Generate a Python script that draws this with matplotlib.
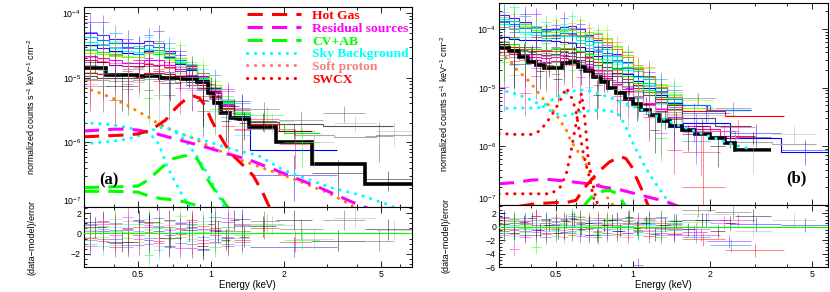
import numpy as np
import matplotlib
matplotlib.use('Agg')
from matplotlib import pyplot as plt
from matplotlib.lines import Line2D
from matplotlib.ticker import FixedLocator, FixedFormatter, MultipleLocator, LogLocator, NullFormatter

plt.rcParams['font.family'] = ['Liberation Sans', 'DejaVu Sans']
plt.rcParams['mathtext.default'] = 'regular'

# ---------------- panel (a) : spectra ----------------
A_EDGES = [0.30, 0.34, 0.38, 0.43, 0.48, 0.53, 0.58, 0.64, 0.71, 0.79, 0.88, 0.98, 1.10, 1.25, 1.45]
A_FRAC = [0.55, 0.5, 0.45, 0.42, 0.4, 0.38, 0.36, 0.35, 0.35, 0.35, 0.35, 0.38, 0.42, 0.48]
A_TAIL_FRAC = 0.45
A_COLORS = ['#7f00ff', '#0080ff', '#00ffff', '#0000ff', '#00ff00', '#80ff00',
            '#ff00ff', '#ff0080', '#ff0000', '#555555', '#aaaaaa']
A_MODELS = [
    [5.0e-5, 4.5e-5, 3.9e-5, 3.5e-5, 3.4e-5, 3.7e-5, 3.4e-5, 2.6e-5, 2.0e-5, 1.5e-5, 1.05e-5, 7.0e-6, 4.5e-6, 3.0e-6],
    [4.2e-5, 3.8e-5, 3.4e-5, 3.0e-5, 2.9e-5, 3.2e-5, 3.0e-5, 2.4e-5, 1.85e-5, 1.4e-5, 1.0e-5, 6.8e-6, 4.3e-6, 2.9e-6],
    [3.6e-5, 3.3e-5, 2.9e-5, 2.6e-5, 2.5e-5, 2.8e-5, 2.7e-5, 2.2e-5, 1.75e-5, 1.35e-5, 9.6e-6, 6.6e-6, 4.1e-6, 2.8e-6],
    [3.2e-5, 2.9e-5, 2.6e-5, 2.4e-5, 2.3e-5, 2.6e-5, 2.5e-5, 2.1e-5, 1.65e-5, 1.3e-5, 9.2e-6, 6.3e-6, 3.9e-6, 2.6e-6],
    [2.7e-5, 2.5e-5, 2.3e-5, 2.1e-5, 2.1e-5, 2.4e-5, 2.3e-5, 2.0e-5, 1.7e-5, 1.35e-5, 9.8e-6, 6.6e-6, 4.2e-6, 2.7e-6],
    [2.4e-5, 2.3e-5, 2.2e-5, 2.1e-5, 2.1e-5, 2.4e-5, 2.5e-5, 2.3e-5, 2.0e-5, 1.6e-5, 1.2e-5, 7.8e-6, 4.6e-6, 2.9e-6],
    [2.2e-5, 2.0e-5, 1.85e-5, 1.7e-5, 1.7e-5, 1.9e-5, 1.85e-5, 1.6e-5, 1.35e-5, 1.1e-5, 8.5e-6, 6.0e-6, 3.8e-6, 2.5e-6],
    [1.9e-5, 1.75e-5, 1.6e-5, 1.5e-5, 1.5e-5, 1.65e-5, 1.6e-5, 1.45e-5, 1.25e-5, 1.05e-5, 8.2e-6, 5.8e-6, 3.6e-6, 2.4e-6],
    [1.2e-5, 1.15e-5, 1.1e-5, 1.1e-5, 1.1e-5, 1.2e-5, 1.2e-5, 1.15e-5, 1.05e-5, 9.5e-6, 7.6e-6, 5.3e-6, 3.4e-6, 2.3e-6],
    [1.05e-5, 1.0e-5, 1.0e-5, 1.0e-5, 1.0e-5, 1.05e-5, 1.05e-5, 1.0e-5, 9.5e-6, 8.5e-6, 7.0e-6, 5.0e-6, 3.3e-6, 2.4e-6],
    [9.5e-6, 9.2e-6, 9.0e-6, 9.0e-6, 9.2e-6, 9.6e-6, 9.5e-6, 9.2e-6, 8.6e-6, 7.8e-6, 6.5e-6, 4.7e-6, 3.1e-6, 2.2e-6],
]
A_RESID = [
    [0.8, 1.2, -0.5, 0.3, -1.1, 0.6, 1.5, -0.2, 0.9, -1.4, 0.4, -0.8, 1.1, 0.2],
    [-0.6, 0.4, 1.0, -1.3, 0.2, -0.4, 0.7, 1.3, -0.9, 0.5, -0.3, 1.6, -1.0, 0.8],
    [0.3, -1.2, 0.6, 0.9, -0.2, 1.4, -1.6, 0.4, 0.1, -0.7, 1.2, -0.5, 0.3, -1.1],
    [1.1, 0.2, -0.9, 0.5, 1.3, -0.6, 0.2, -1.2, 1.0, 0.6, -1.5, 0.3, -0.4, 1.4],
    [-1.0, 0.7, 0.2, -0.4, 0.9, -2.1, 0.5, 1.2, -0.3, 0.8, 0.1, -1.3, 0.6, -0.2],
    [0.5, -0.3, 1.4, 0.1, -0.8, 0.3, 1.0, -0.5, 1.7, -0.2, 0.9, 0.4, -0.7, 0.2],
    [-1.2, 0.9, -0.2, 1.6, -0.5, 0.8, -0.9, 0.3, -1.4, 1.1, -0.6, 0.2, 1.5, -0.8],
    [0.2, -0.7, 0.9, -1.1, 0.6, 0.1, -0.4, 1.3, 0.5, -1.0, 0.7, -0.2, -1.2, 0.9],
    [-0.4, 1.1, -1.3, 0.4, -0.2, 1.0, -0.7, 0.6, -0.1, 1.3, -0.9, 0.5, 0.2, -0.6],
    [0.9, -0.5, 0.3, -0.8, 1.2, -1.0, 0.6, -1.3, 0.4, 0.9, -1.6, 1.2, -0.3, 0.7],
    [-0.3, 0.6, -1.1, 1.2, -0.2, 0.4, -1.2, 0.8, 1.1, -0.5, 0.3, -0.9, 0.6, -0.4],
]
A_TAIL_EDGES = [[], [], [], [1.45, 3.3], [1.45, 2.0, 2.8], [], [], [], [1.45, 1.9, 2.6],
                [1.45, 1.9, 2.9, 4.3, 5.6], [1.45, 2.2, 3.2, 4.8, 6.7]]
A_TAIL_MODELS = [[], [], [], [7.5e-7], [1.9e-6, 1.4e-6], [], [], [], [1.9e-6, 1.5e-6],
                 [2.1e-6, 1.9e-6, 1.8e-6, 1.8e-6], [1.6e-6, 1.3e-6, 1.2e-6, 1.3e-6]]
A_TAIL_RESID = [[], [], [], [-1.3], [0.9, -0.6], [], [], [], [0.5, -0.8],
                [1.2, 0.4, 1.3, -0.7], [0.8, -0.5, 1.5, 0.3]]

A_BLACK_EDGES = [0.30, 0.37, 0.50, 0.62, 0.75, 0.88, 0.97, 1.03, 1.10, 1.20, 1.30, 1.43, 1.86, 2.60, 4.30, 6.70]
A_BLACK = [1.4e-5, 1.1e-5, 1.05e-5, 1.0e-5, 9.5e-6, 8.6e-6, 5.8e-6, 4.0e-6, 2.8e-6, 2.4e-6, 2.3e-6, 1.7e-6, 1.0e-6, 4.7e-7, 2.3e-7]
A_BLACK_RESID = [0.6, -0.8, 1.1, -0.4, 0.3, -1.2, 0.9, 0.2, -0.6, 1.3, -0.3, 0.7, 1.3, -0.7, 0.4]
A_BLACK_FRAC = 0.4

# ---------------- panel (a) : model components ----------------
A_HOT_E = [0.30, 0.35, 0.40, 0.45, 0.50, 0.55, 0.60, 0.65, 0.70, 0.75, 0.80, 0.85, 0.90, 0.95, 1.00, 1.06, 1.13, 1.21, 1.35, 1.49, 1.63, 1.72, 1.80]
A_HOT = [1.22e-6, 1.25e-6, 1.28e-6, 1.3e-6, 1.35e-6, 1.5e-6, 1.8e-6, 2.2e-6, 3.1e-6, 4.0e-6, 4.8e-6, 5.2e-6, 4.8e-6, 3.6e-6, 2.3e-6, 1.5e-6, 1.0e-6, 6.7e-7, 4.5e-7, 3.1e-7, 1.7e-7, 1.1e-7, 8e-8]
A_RES_E = [0.30, 0.35, 0.40, 0.45, 0.50, 0.60, 0.70, 0.85, 1.00, 1.20, 1.45, 2.00, 2.80, 3.80, 4.30, 4.60]
A_RES = [1.5e-6, 1.55e-6, 1.6e-6, 1.6e-6, 1.55e-6, 1.35e-6, 1.15e-6, 9.5e-7, 8.0e-7, 6.5e-7, 5.3e-7, 3.3e-7, 2.0e-7, 1.2e-7, 1.0e-7, 9e-8]
A_CV1_E = [0.30, 0.40, 0.50, 0.55, 0.60, 0.65, 0.70, 0.78, 0.84, 0.88, 0.93, 0.98, 1.05, 1.10, 1.15, 1.20]
A_CV1 = [2.0e-7, 2.05e-7, 2.1e-7, 2.6e-7, 3.5e-7, 4.6e-7, 5.6e-7, 6.2e-7, 6.3e-7, 5.5e-7, 3.8e-7, 2.5e-7, 1.7e-7, 1.4e-7, 1.1e-7, 9e-8]
A_CV2_E = [0.30, 0.40, 0.50, 0.55, 0.62, 0.70, 0.78, 0.88, 0.95]
A_CV2 = [1.75e-7, 1.75e-7, 1.7e-7, 1.5e-7, 1.35e-7, 1.3e-7, 1.2e-7, 1.05e-7, 9e-8]
A_SKY1_E = [0.30, 0.35, 0.40, 0.45, 0.50, 0.55, 0.60, 0.63, 0.66, 0.70, 0.75, 0.81, 0.85]
A_SKY1 = [2.0e-6, 1.95e-6, 1.85e-6, 1.7e-6, 1.55e-6, 1.45e-6, 1.05e-6, 7e-7, 4.2e-7, 2.8e-7, 1.7e-7, 1.05e-7, 8e-8]
A_SKY2_E = [0.30, 0.35, 0.40, 0.45, 0.50, 0.55, 0.60, 0.64, 0.70, 0.80, 0.94, 1.21, 1.56, 2.00, 3.10, 4.20, 5.30, 6.00]
A_SKY2 = [9.5e-7, 1.0e-6, 1.05e-6, 1.12e-6, 1.25e-6, 1.45e-6, 1.65e-6, 1.73e-6, 1.55e-6, 1.25e-6, 1.07e-6, 7.9e-7, 6.3e-7, 3.7e-7, 2.0e-7, 1.5e-7, 1.1e-7, 9e-8]
A_SKY3_E = [0.72, 0.78, 0.83, 0.88, 0.94, 1.00, 1.05, 1.10, 1.15]
A_SKY3 = [1.4e-6, 1.1e-6, 8e-7, 5.9e-7, 4e-7, 2.6e-7, 1.8e-7, 1.27e-7, 9e-8]
A_SP_E = [0.30, 0.35, 0.40, 0.45, 0.50, 0.55, 0.60, 0.70, 0.85, 1.00, 1.30, 1.70, 2.20, 3.10, 3.80, 4.20]
A_SP = [7e-6, 5.8e-6, 4.7e-6, 3.8e-6, 3.0e-6, 2.5e-6, 2.0e-6, 1.5e-6, 1.15e-6, 8.5e-7, 5.5e-7, 3.8e-7, 2.7e-7, 1.6e-7, 1.05e-7, 8e-8]

# ---------------- panel (b) : spectra ----------------
B_EDGES = [0.30, 0.33, 0.36, 0.40, 0.44, 0.48, 0.52, 0.56, 0.60, 0.65, 0.70, 0.76, 0.83, 0.91, 1.00, 1.10, 1.22, 1.36, 1.55]
B_FRAC = [0.6, 0.55, 0.5, 0.45, 0.42, 0.4, 0.38, 0.36, 0.35, 0.34, 0.33, 0.33, 0.34, 0.36, 0.4, 0.45, 0.5, 0.55]
B_TAIL_FRAC = 0.5
B_COLORS = ['#7f00ff', '#00ff80', '#80ff00', '#ff8000', '#0080ff', '#00ffff', '#0000ff',
            '#ff0000', '#ff00ff', '#ff0080', '#555555', '#aaaaaa', '#00ff00']
B_MODELS = [
    [1.75e-4, 1.55e-4, 1.3e-4, 1.1e-4, 1.0e-4, 1.0e-4, 1.1e-4, 1.15e-4, 1.0e-4, 8.0e-5, 6.4e-5, 5.0e-5, 3.8e-5, 2.8e-5, 2.1e-5, 1.5e-5, 1.1e-5, 7.5e-6],
    [1.5e-4, 1.4e-4, 1.2e-4, 1.05e-4, 9.5e-5, 9.5e-5, 1.0e-4, 1.0e-4, 9.0e-5, 7.5e-5, 6.0e-5, 4.6e-5, 3.5e-5, 2.6e-5, 1.9e-5, 1.4e-5, 1.0e-5, 7e-6],
    [1.3e-4, 1.2e-4, 1.1e-4, 9.5e-5, 9.0e-5, 9.0e-5, 9.5e-5, 9.5e-5, 9.0e-5, 8.8e-5, 8.5e-5, 7.0e-5, 5.2e-5, 3.6e-5, 2.3e-5, 1.6e-5, 1.1e-5, 7.5e-6],
    [1.1e-4, 1.0e-4, 9.0e-5, 8.0e-5, 7.5e-5, 7.5e-5, 8.0e-5, 8.0e-5, 7.8e-5, 7.5e-5, 7.0e-5, 6.0e-5, 4.6e-5, 3.3e-5, 2.2e-5, 1.5e-5, 1.05e-5, 7e-6],
    [1.35e-4, 1.2e-4, 1.05e-4, 9.0e-5, 8.0e-5, 8.0e-5, 8.5e-5, 8.5e-5, 7.5e-5, 6.2e-5, 5.0e-5, 3.9e-5, 3.0e-5, 2.2e-5, 1.6e-5, 1.2e-5, 8.8e-6, 6.5e-6],
    [1.2e-4, 1.05e-4, 9.0e-5, 7.8e-5, 7.0e-5, 7.0e-5, 7.5e-5, 7.5e-5, 6.5e-5, 5.4e-5, 4.4e-5, 3.5e-5, 2.7e-5, 2.0e-5, 1.5e-5, 1.1e-5, 8e-6, 5.8e-6],
    [7.3e-5, 6.8e-5, 6.4e-5, 6.5e-5, 6.4e-5, 6.2e-5, 6.0e-5, 5.8e-5, 5.0e-5, 4.2e-5, 3.5e-5, 2.8e-5, 2.2e-5, 1.7e-5, 1.3e-5, 1.0e-5, 7.6e-6, 5.5e-6],
    [5.5e-5, 5.0e-5, 4.6e-5, 4.3e-5, 4.2e-5, 4.3e-5, 4.5e-5, 4.5e-5, 4.0e-5, 3.4e-5, 2.8e-5, 2.3e-5, 1.8e-5, 1.4e-5, 1.1e-5, 8.5e-6, 6.5e-6, 5e-6],
    [4.6e-5, 4.2e-5, 3.8e-5, 3.4e-5, 3.2e-5, 3.3e-5, 3.6e-5, 3.5e-5, 3.0e-5, 2.5e-5, 2.0e-5, 1.6e-5, 1.25e-5, 9.5e-6, 7.2e-6, 5.6e-6, 4.3e-6, 3.2e-6],
    [4.0e-5, 3.7e-5, 3.3e-5, 3.0e-5, 2.8e-5, 2.9e-5, 3.2e-5, 3.1e-5, 2.7e-5, 2.2e-5, 1.8e-5, 1.45e-5, 1.15e-5, 8.8e-6, 6.8e-6, 5.2e-6, 4.0e-6, 3.0e-6],
    [5.0e-5, 4.6e-5, 4.2e-5, 3.8e-5, 3.6e-5, 3.7e-5, 4.0e-5, 3.9e-5, 3.4e-5, 2.9e-5, 2.4e-5, 2.0e-5, 1.6e-5, 1.25e-5, 9.8e-6, 7.6e-6, 5.8e-6, 4.4e-6],
    [3.6e-5, 3.3e-5, 3.0e-5, 2.8e-5, 2.6e-5, 2.7e-5, 2.9e-5, 2.8e-5, 2.5e-5, 2.1e-5, 1.7e-5, 1.4e-5, 1.1e-5, 8.5e-6, 6.6e-6, 5.1e-6, 3.9e-6, 3.0e-6],
    [6.0e-5, 5.5e-5, 5.0e-5, 4.6e-5, 4.4e-5, 4.5e-5, 4.8e-5, 4.8e-5, 4.3e-5, 3.7e-5, 3.1e-5, 2.6e-5, 2.1e-5, 1.6e-5, 1.2e-5, 9.2e-6, 7e-6, 5.2e-6],
]
B_RESID = [
    [1.2, -0.5, 0.8, 1.5, -0.9, 0.4, 1.1, -0.3, 0.6, -1.2, 0.9, 0.2, -0.7, 1.3, -5.7, 0.5, -1.0, 0.4],
    [0.5, 1.3, -0.8, 0.2, 1.0, -1.4, 0.6, 1.8, -0.5, 0.3, -1.1, 0.8, 1.2, -0.4, 0.7, -0.9, 0.3, 1.0],
    [-0.7, 0.9, 0.3, -1.2, 0.6, 1.4, -0.2, 0.9, 1.6, -0.6, 0.4, 1.1, -1.3, 0.5, -0.2, 0.8, -0.6, 0.2],
    [0.8, -1.1, 0.5, 0.9, -0.3, 0.2, -1.5, 0.7, -0.1, 1.2, -0.8, 0.4, 0.9, -1.6, 0.3, 1.1, -0.4, -0.9],
    [-1.0, 0.3, 1.2, -0.4, -1.6, 0.8, 0.2, -0.9, 1.1, 0.5, -0.2, -1.3, 0.6, 0.1, -0.8, 0.4, 1.2, -0.5],
    [0.4, -1.4, -0.2, 0.9, 0.3, -0.7, 1.3, 0.1, -1.1, 0.8, 1.0, -0.5, -0.2, 0.9, -1.3, 0.2, -0.7, 0.6],
    [1.4, 0.6, -1.2, -0.5, 1.1, 0.3, -0.8, 1.2, 0.4, -1.3, 0.6, 0.9, -0.6, -1.0, 0.5, 1.3, -0.2, -1.1],
    [-0.3, 0.8, -0.6, 1.6, -1.1, -0.4, 0.9, -1.2, 0.7, -0.2, 1.3, -0.9, 0.3, 0.8, -0.5, -1.4, 0.6, -0.3],
    [-1.3, -3.3, 0.6, -0.8, 0.9, 1.2, -0.5, 0.3, -1.4, 0.9, -0.6, 0.2, 1.1, -0.9, 0.4, -0.2, -1.2, 0.8],
    [0.9, -0.4, -1.5, 0.3, 0.6, -1.0, 0.8, -0.6, 1.4, -0.3, 0.2, 1.0, -1.1, 0.5, 1.2, -0.7, 0.3, -1.3],
    [-0.6, 1.1, 0.4, -1.3, 0.2, 0.7, -0.9, 1.5, -0.4, 0.6, -1.6, -0.3, 1.0, 0.4, -0.7, 0.9, 1.4, -0.2],
    [0.2, -0.9, 1.0, 0.6, -0.6, -0.2, 1.2, -0.8, 0.3, -1.5, 0.7, 1.3, -0.4, -1.2, 0.9, -0.5, 0.8, 0.3],
    [-0.9, 0.5, -0.3, -3.0, 0.8, -0.5, 0.4, -1.0, 1.0, 0.2, -0.8, 0.6, 0.1, 1.2, -0.6, 0.7, -1.6, 0.5],
]
B_TAIL_EDGES = [[1.55, 1.95, 2.9], [], [1.55, 2.05], [], [1.55, 2.0, 2.9], [], [1.55, 2.4, 3.8, 5.8],
                [1.55, 2.3, 3.9], [1.55, 2.0, 2.6], [1.55, 2.2, 3.0], [1.55, 2.1, 2.9],
                [1.55, 2.5, 3.5, 5.2], []]
B_TAIL_MODELS = [[5e-6, 4.2e-6], [], [4.5e-6], [], [5e-6, 4.1e-6], [], [2.5e-6, 1.4e-6, 8e-7],
                 [4e-6, 3.3e-6], [2.2e-6, 1.4e-6], [2e-6, 1.5e-6], [3e-6, 2.2e-6],
                 [1.8e-6, 1.2e-6, 1.1e-6], []]
B_TAIL_RESID = [[-0.8, -2.2], [], [0.7], [], [-1.5, -2.8], [], [1.0, 0.4, 0.2],
                [-1.9, -3.5], [-0.4, 0.6], [-1.2, 0.9], [2.4, 2.1],
                [1.8, -0.6, 1.0], []]

B_BLACK_EDGES = [0.30, 0.33, 0.36, 0.39, 0.42, 0.45, 0.49, 0.53, 0.57, 0.61, 0.65, 0.70, 0.75, 0.80,
                 0.86, 0.93, 1.00, 1.08, 1.17, 1.27, 1.40, 1.55, 1.75, 2.00, 2.30, 2.50, 3.45]
B_BLACK = [4.8e-5, 4.2e-5, 3.4e-5, 2.8e-5, 2.4e-5, 2.15e-5, 2.2e-5, 2.6e-5, 2.8e-5, 2.3e-5,
           1.9e-5, 1.55e-5, 1.25e-5, 1.0e-5, 8e-6, 6.4e-6, 5.2e-6, 4.2e-6, 3.4e-6, 2.7e-6,
           2.2e-6, 1.9e-6, 1.6e-6, 1.4e-6, 1.15e-6, 8.7e-7]
B_BLACK_RESID = [0.4, -1.0, 0.7, 1.2, -0.5, 0.3, -0.9, 0.8, 1.1, -0.3, 0.5, -1.3, 0.2,
                 0.9, -0.6, 1.4, -0.2, 0.6, -1.1, 0.3, 0.8, -0.4, 1.0, -0.7, 0.5, 1.6]
B_BLACK_FRAC = 0.4

# ---------------- panel (b) : model components ----------------
B_HOT_E = [0.36, 0.40, 0.45, 0.50, 0.55, 0.60, 0.65, 0.70, 0.75, 0.81, 0.86, 0.90, 0.94, 0.99, 1.03, 1.08, 1.14, 1.17]
B_HOT = [9.5e-8, 1.02e-7, 1.07e-7, 1.1e-7, 1.1e-7, 1.2e-7, 2.0e-7, 2.9e-7, 4.0e-7, 5.4e-7, 6.2e-7, 6.6e-7, 6.2e-7, 4.5e-7, 3.0e-7, 1.9e-7, 1.05e-7, 8.5e-8]
B_RES_E = [0.30, 0.34, 0.40, 0.46, 0.55, 0.67, 0.78, 0.90, 1.00, 1.20, 1.35, 1.46, 1.50]
B_RES = [2.3e-7, 2.4e-7, 2.65e-7, 2.75e-7, 2.55e-7, 2.3e-7, 2.0e-7, 1.8e-7, 1.6e-7, 1.3e-7, 1.15e-7, 1.0e-7, 9.5e-8]
B_CV_E = [0.64, 0.66, 0.69, 0.73, 0.77, 0.82, 0.87, 0.90, 0.93, 0.95]
B_CV = [9e-8, 1.1e-7, 1.35e-7, 1.6e-7, 1.75e-7, 1.75e-7, 1.55e-7, 1.25e-7, 1.0e-7, 8.5e-8]
B_SKY1_E = [0.30, 0.33, 0.36, 0.40, 0.44, 0.48, 0.52, 0.56, 0.60, 0.70, 0.81, 0.89, 0.94, 0.99, 1.05, 1.12, 1.18, 1.26, 1.34, 1.39, 1.45]
B_SKY1 = [9e-6, 8.5e-6, 7.5e-6, 6.2e-6, 5e-6, 4.0e-6, 3.4e-6, 3.3e-6, 3.8e-6, 4.1e-6, 4.1e-6, 3.4e-6, 2.1e-6, 1.27e-6, 7.5e-7, 4.4e-7, 3e-7, 2e-7, 1.35e-7, 1.04e-7, 8e-8]
B_SKY2_E = [0.30, 0.35, 0.40, 0.44, 0.49, 0.54, 0.58, 0.65, 0.80, 1.00, 1.20, 1.50, 1.90, 2.50, 2.90]
B_SKY2 = [4.4e-6, 4.5e-6, 4.5e-6, 4.6e-6, 6.5e-6, 7.9e-6, 8.7e-6, 9.3e-6, 7e-6, 4.8e-6, 3.5e-6, 2.3e-6, 1.6e-6, 1.05e-6, 9e-7]
B_SP_E = [0.30, 0.33, 0.35, 0.38, 0.40, 0.44, 0.47, 0.50, 0.55, 0.57, 0.60, 0.64, 0.67, 0.70, 0.75, 0.81, 0.85]
B_SP = [3.8e-5, 3e-5, 2.1e-5, 1.5e-5, 1.2e-5, 7e-6, 5e-6, 3.6e-6, 1.9e-6, 1.3e-6, 9e-7, 6.5e-7, 4e-7, 3e-7, 2e-7, 1.2e-7, 9e-8]
B_SWCX1_E = [0.30, 0.35, 0.40, 0.43, 0.46, 0.49, 0.52, 0.55, 0.58, 0.60, 0.62, 0.64, 0.66, 0.68, 0.70, 0.72]
B_SWCX1 = [1.65e-6, 1.6e-6, 1.6e-6, 1.8e-6, 2.5e-6, 3.8e-6, 6e-6, 1.0e-5, 6.5e-6, 4e-6, 1.7e-6, 8e-7, 4.5e-7, 2.8e-7, 1.4e-7, 9e-8]
B_SWCX2_E = [0.30, 0.40, 0.48, 0.52, 0.55, 0.57, 0.59, 0.61, 0.63, 0.645, 0.66, 0.67, 0.69, 0.71, 0.73, 0.75]
B_SWCX2 = [1.55e-7, 1.55e-7, 1.55e-7, 2e-7, 3.4e-7, 7e-7, 1.6e-6, 3.5e-6, 8e-6, 4e-6, 1.4e-6, 6e-7, 3e-7, 1.6e-7, 1e-7, 8e-8]

LEGEND_LABELS = ['Hot Gas', 'Residual sources', 'CV+AB', 'Sky Background', 'Soft proton', 'SWCX']
LEGEND_COLORS = ['#ff0000', '#ff00ff', '#00ff00', '#00ffff', '#f08080', '#ff0000']

DASH = (0, (5, 3))
DOT = (0, (0.1, 2.5))


def plot_dataset(ax, axr, edges, model, resid, frac, color, model_lw=0.8):
    edges = np.asarray(edges, dtype=float)
    model = np.asarray(model, dtype=float)
    resid = np.asarray(resid, dtype=float)
    frac = np.asarray(frac, dtype=float)
    lo, hi = edges[:-1], edges[1:]
    x = np.sqrt(lo * hi)
    err = frac * model
    data = model + resid * err
    ok = data > 0
    ax.errorbar(x[ok], data[ok], xerr=[x[ok] - lo[ok], hi[ok] - x[ok]],
                yerr=[np.minimum(err[ok], 0.6 * data[ok]), err[ok]],
                fmt='none', ecolor=color, elinewidth=0.6, alpha=0.55, capsize=0)
    ax.stairs(model, edges, color=color, lw=model_lw, baseline=None)
    axr.errorbar(x, resid, xerr=[x - lo, hi - x], yerr=1.0,
                 fmt='none', ecolor=color, elinewidth=0.6, alpha=0.55, capsize=0)


def plot_panel(ax, axr, edges, frac, tail_frac, colors, models, resids, tail_edges, tail_models, tail_resids):
    for i, color in enumerate(colors):
        e = list(edges) + list(tail_edges[i][1:])
        m = list(models[i]) + list(tail_models[i])
        r = list(resids[i]) + list(tail_resids[i])
        f = list(frac) + [tail_frac] * len(tail_models[i])
        plot_dataset(ax, axr, e, m, r, f, color)


def style_axes(ax, axr, xlim, ylim, rlim, rticks):
    for a in (ax, axr):
        a.set_xscale('log')
        a.set_xlim(*xlim)
        a.xaxis.set_major_locator(FixedLocator([0.5, 1, 2, 5]))
        a.xaxis.set_major_formatter(FixedFormatter(['0.5', '1', '2', '5']))
        a.xaxis.set_minor_locator(FixedLocator([0.3, 0.4, 0.6, 0.7, 0.8, 0.9, 3, 4, 6, 7]))
        a.xaxis.set_minor_formatter(NullFormatter())
        a.tick_params(which='both', direction='in', top=True, right=True, labelsize=6.3, width=0.6, pad=2)
        a.tick_params(which='major', length=4.5)
        a.tick_params(which='minor', length=2.2)
        for s in a.spines.values():
            s.set_linewidth(0.8)
    ax.set_yscale('log')
    ax.set_ylim(*ylim)
    ax.yaxis.set_major_locator(LogLocator(base=10, numticks=10))
    ax.yaxis.set_minor_locator(LogLocator(base=10, subs=np.arange(2, 10), numticks=10))
    ax.yaxis.set_minor_formatter(NullFormatter())
    ax.tick_params(labelbottom=False)
    axr.set_ylim(*rlim)
    axr.set_yticks(rticks)
    axr.yaxis.set_minor_locator(MultipleLocator(0.5))
    axr.axhline(0, color='#00ff00', lw=0.8, zorder=5)
    axr.set_xlabel('Energy (keV)', fontsize=7, labelpad=1)
    ax.set_ylabel('normalized counts s$^{-1}$ keV$^{-1}$ cm$^{-2}$', fontsize=6.5)
    axr.set_ylabel('(data\u2212model)/error', fontsize=6.5)


def lift_bottom_label(fig, ax):
    # the lowest decade label sits right above the residual panel's top label
    fig.canvas.draw()
    for tick in ax.yaxis.get_major_ticks():
        if abs(np.log10(tick.get_loc()) + 7) < 0.01:
            tick.label1.set_verticalalignment('bottom')


fig = plt.figure(figsize=(8.3, 2.92), dpi=100)
ax_a = fig.add_axes([0.101, 0.291, 0.395, 0.685])
axr_a = fig.add_axes([0.101, 0.0856, 0.395, 0.2054])
ax_b = fig.add_axes([0.601, 0.298, 0.397, 0.692])
axr_b = fig.add_axes([0.601, 0.0856, 0.397, 0.2124])

# panel (a)
plot_panel(ax_a, axr_a, A_EDGES, A_FRAC, A_TAIL_FRAC, A_COLORS, A_MODELS, A_RESID,
           A_TAIL_EDGES, A_TAIL_MODELS, A_TAIL_RESID)
plot_dataset(ax_a, axr_a, A_BLACK_EDGES, A_BLACK, A_BLACK_RESID,
             [A_BLACK_FRAC] * len(A_BLACK), 'black', model_lw=2.6)
ax_a.plot(A_SP_E, A_SP, color='#ff8000', lw=2.2, ls=DOT, dash_capstyle='round')
ax_a.plot(A_SKY1_E, A_SKY1, color='#00ffff', lw=2.2, ls=DOT, dash_capstyle='round')
ax_a.plot(A_SKY2_E, A_SKY2, color='#00ffff', lw=2.2, ls=DOT, dash_capstyle='round')
ax_a.plot(A_SKY3_E, A_SKY3, color='#00ffff', lw=2.2, ls=DOT, dash_capstyle='round')
ax_a.plot(A_RES_E, A_RES, color='#ff00ff', lw=2.2, ls=DASH)
ax_a.plot(A_HOT_E, A_HOT, color='#ff0000', lw=2.2, ls=DASH)
ax_a.plot(A_CV1_E, A_CV1, color='#00ff00', lw=2.2, ls=DASH)
ax_a.plot(A_CV2_E, A_CV2, color='#00ff00', lw=2.2, ls=DASH)
style_axes(ax_a, axr_a, (0.3, 6.7), (1e-7, 1.24e-4), (-3.3, 2.6), [-2, 0, 2])
ax_a.yaxis.set_label_coords(-0.143, 0.5)
axr_a.yaxis.set_label_coords(-0.143, 0.5)
ax_a.text(0.38, 2.6e-7, '(a)', family='Liberation Serif', fontweight='bold', fontsize=12,
          ha='center', va='center')

handles = [
    Line2D([], [], color=LEGEND_COLORS[0], lw=2.2, ls=DASH),
    Line2D([], [], color=LEGEND_COLORS[1], lw=2.2, ls=DASH),
    Line2D([], [], color=LEGEND_COLORS[2], lw=2.2, ls=DASH),
    Line2D([], [], color=LEGEND_COLORS[3], lw=2.2, ls=DOT, dash_capstyle='round'),
    Line2D([], [], color=LEGEND_COLORS[4], lw=2.2, ls=DOT, dash_capstyle='round'),
    Line2D([], [], color=LEGEND_COLORS[5], lw=2.2, ls=DOT, dash_capstyle='round'),
]
leg = ax_a.legend(handles, LEGEND_LABELS, loc='upper right', frameon=False,
                  prop={'family': 'Liberation Serif', 'weight': 'bold', 'size': 9.7},
                  handlelength=4.0, handletextpad=0.85, labelspacing=0.02,
                  borderaxespad=0.05, borderpad=0.15)
for txt, c in zip(leg.get_texts(), LEGEND_COLORS):
    txt.set_color(c)

# panel (b)
plot_panel(ax_b, axr_b, B_EDGES, B_FRAC, B_TAIL_FRAC, B_COLORS, B_MODELS, B_RESID,
           B_TAIL_EDGES, B_TAIL_MODELS, B_TAIL_RESID)
plot_dataset(ax_b, axr_b, B_BLACK_EDGES, B_BLACK, B_BLACK_RESID,
             [B_BLACK_FRAC] * len(B_BLACK), 'black', model_lw=2.6)
ax_b.plot(B_SP_E, B_SP, color='#ff8000', lw=2.2, ls=DOT, dash_capstyle='round')
ax_b.plot(B_SKY1_E, B_SKY1, color='#00ffff', lw=2.2, ls=DOT, dash_capstyle='round')
ax_b.plot(B_SKY2_E, B_SKY2, color='#00ffff', lw=2.2, ls=DOT, dash_capstyle='round')
ax_b.plot(B_SWCX1_E, B_SWCX1, color='#ff0000', lw=2.2, ls=DOT, dash_capstyle='round')
ax_b.plot(B_SWCX2_E, B_SWCX2, color='#ff0000', lw=2.2, ls=DOT, dash_capstyle='round')
ax_b.plot(B_RES_E, B_RES, color='#ff00ff', lw=2.2, ls=DASH)
ax_b.plot(B_HOT_E, B_HOT, color='#ff0000', lw=2.2, ls=DASH)
ax_b.plot(B_CV_E, B_CV, color='#00ff00', lw=2.2, ls=DASH)
style_axes(ax_b, axr_b, (0.3, 5.8), (1e-7, 2.8e-4), (-6, 3.2), [-6, -4, -2, 0, 2])
ax_b.yaxis.set_label_coords(-0.148, 0.5)
axr_b.yaxis.set_label_coords(-0.148, 0.5)
ax_b.text(4.35, 2.8e-7, '(b)', family='Liberation Serif', fontweight='bold', fontsize=12,
          ha='center', va='center')

lift_bottom_label(fig, ax_a)
lift_bottom_label(fig, ax_b)

fig.savefig('out.png', dpi=100)
